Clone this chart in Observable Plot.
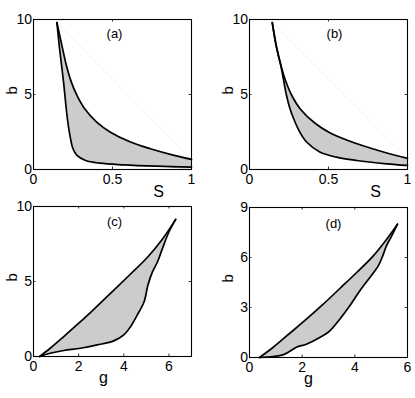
<!DOCTYPE html>
<html><head><meta charset="utf-8">
<script src="https://cdn.jsdelivr.net/npm/d3@7"></script>
<script src="https://cdn.jsdelivr.net/npm/@observablehq/plot@0.6"></script>
<style>
html,body{margin:0;padding:0;background:#fff;overflow:hidden;}
#chart{position:relative;width:415px;height:398px;}
#chart svg{position:absolute;overflow:visible;}
</style></head><body><div id="chart"></div>
<script>
// Panel (a): b versus S
const aUpper = [[0.148,9.8],[0.184,8.06],[0.208,6.95],[0.239,5.84],[0.275,4.94],[0.324,4.05],[0.40,3.16],[0.487,2.49],[0.614,1.83],[0.74,1.38],[0.89,0.94],[1.0,0.67]];
const aLower = [[0.148,9.8],[0.165,8.06],[0.19,5.84],[0.212,3.6],[0.227,2.49],[0.25,1.38],[0.275,0.94],[0.33,0.6],[0.42,0.42],[0.57,0.31],[0.78,0.22],[1.0,0.16]];
// Panel (b): b versus S
const bUpper = [[0.144,9.8],[0.17,8.2],[0.197,7.0],[0.229,5.9],[0.267,4.95],[0.324,4.0],[0.413,3.1],[0.508,2.45],[0.657,1.8],[0.805,1.3],[0.91,0.98],[1.0,0.74]];
const bLower = [[0.144,9.8],[0.17,8.2],[0.197,7.0],[0.215,6.0],[0.233,5.0],[0.252,4.2],[0.275,3.5],[0.318,2.5],[0.36,1.85],[0.445,1.16],[0.55,0.82],[0.678,0.6],[0.87,0.38],[1.0,0.27]];
// Panel (c): b versus g
const cUpper = [[0.27,0],[0.74,0.55],[1.34,1.33],[2.08,2.32],[2.82,3.36],[3.56,4.42],[4.3,5.5],[5.04,6.6],[5.7,7.8],[6.3,9.14]];
const cLower = [[0.27,0],[0.74,0.22],[1.34,0.4],[2.08,0.55],[2.82,0.77],[3.56,1.04],[4.0,1.44],[4.3,1.99],[4.6,2.77],[4.9,3.65],[5.07,4.76],[5.27,5.64],[5.49,6.3],[5.71,7.19],[6.0,8.3],[6.3,9.14]];
// Panel (d): b versus g
const dUpper = [[0.38,0],[0.89,0.6],[1.52,1.44],[2.16,2.3],[2.8,3.2],[3.43,4.14],[4.07,5.1],[4.7,6.1],[5.21,7.1],[5.62,8.0]];
const dLower = [[0.38,0],[0.89,0.06],[1.27,0.16],[1.52,0.36],[1.78,0.62],[2.16,0.8],[2.67,1.2],[3.05,1.6],[3.43,2.3],[3.81,3.1],[4.19,4.0],[4.57,4.8],[4.89,5.5],[5.06,6.1],[5.2,6.7],[5.4,7.3],[5.62,8.0]];

// Axes
const sDomain = [0, 1], sTicks = [0, 0.5, 1];
const gDomainC = [0, 7], gDomainD = [0, 6], gTicks = [0, 2, 4, 6];
const bDomain10 = [0, 10], bTicks10 = [0, 5, 10];
const bDomain9 = [0, 9], bTicks9 = [0, 3, 6, 9];
const panelLabels = ["(a)", "(b)", "(c)", "(d)"];
const xLabels = ["S", "S", "g", "g"];
const yLabel = "b";

const panels = [
  {upper: aUpper, lower: aLower, xd: sDomain, xt: sTicks, yd: bDomain10, yt: bTicks10, label: panelLabels[0], xl: xLabels[0], left: 0, top: 0, faint: true, xlDx: 46, xlDy: 22, lDx: 2, lDy: 14},
  {upper: bUpper, lower: bLower, xd: sDomain, xt: sTicks, yd: bDomain10, yt: bTicks10, label: panelLabels[1], xl: xLabels[1], left: 216, top: 0, faint: true, xlDx: 47, xlDy: 22, lDx: 6, lDy: 14},
  {upper: cUpper, lower: cLower, xd: gDomainC, xt: gTicks, yd: bDomain10, yt: bTicks10, label: panelLabels[2], xl: xLabels[2], left: 0, top: 187, faint: false, xlDx: -9, xlDy: 21, lDx: 2, lDy: 15},
  {upper: dUpper, lower: dLower, xd: gDomainD, xt: gTicks, yd: bDomain9, yt: bTicks9, label: panelLabels[3], xl: xLabels[3], left: 216, top: 188, faint: false, xlDx: -20, xlDy: 21, lDx: 5, lDy: 16}
];

const W = 199, H = 198, ML = 33, MR = 8, MT = 19, MB = 29;
const innerW = W - ML - MR, innerH = H - MT - MB;
const font = "'Liberation Sans', Arial, Helvetica, sans-serif";
const X = d => d[0], Y = d => d[1];
const chart = document.getElementById("chart");

for (const p of panels) {
  const poly = p.upper.concat(p.lower.slice().reverse());
  const marks = [
    Plot.line(poly, {x: X, y: Y, fill: "#cccccc", stroke: "none", curve: "catmull-rom", clip: true})
  ];
  if (p.faint) {
    marks.push(Plot.line([p.upper[0], p.upper[p.upper.length - 1]], {x: X, y: Y, stroke: "#e6e6e6", strokeWidth: 0.6}));
  }
  marks.push(
    Plot.line(p.upper, {x: X, y: Y, stroke: "black", strokeWidth: 1.7, curve: "catmull-rom"}),
    Plot.line(p.lower, {x: X, y: Y, stroke: "black", strokeWidth: 1.7, curve: "catmull-rom"}),
    Plot.frame({stroke: "black", strokeWidth: 1.1}),
    Plot.tickX(p.xt, {x: d => d, insetTop: innerH - 2.5, stroke: "black", strokeWidth: 0.8}),
    Plot.tickX(p.xt, {x: d => d, insetBottom: innerH - 2.5, stroke: "black", strokeWidth: 0.8}),
    Plot.tickY(p.yt, {y: d => d, insetRight: innerW - 2.5, stroke: "black", strokeWidth: 0.8}),
    Plot.tickY(p.yt, {y: d => d, insetLeft: innerW - 2.5, stroke: "black", strokeWidth: 0.8}),
    Plot.axisX(p.xt, {anchor: "bottom", tickSize: 0, tickPadding: 5, label: null, tickFormat: d => String(d), fontSize: 14}),
    Plot.axisY(p.yt, {anchor: "left", tickSize: 0, tickPadding: 1.5, label: null, tickFormat: d => String(d), fontSize: 14, dy: 0.5}),
    Plot.text([p.label], {frameAnchor: "top", lineAnchor: "middle", dx: p.lDx, dy: p.lDy, text: d => d, fontSize: 13}),
    Plot.text([yLabel], {frameAnchor: "left", lineAnchor: "middle", dx: -21, rotate: -90, text: d => d, fontSize: 15}),
    Plot.text([p.xl], {frameAnchor: "bottom", lineAnchor: "middle", dx: p.xlDx, dy: p.xlDy, text: d => d, fontSize: 16})
  );
  const svg = Plot.plot({
    width: W, height: H,
    marginLeft: ML, marginRight: MR, marginTop: MT, marginBottom: MB,
    style: {fontFamily: font, fontSize: "14px", color: "black", background: "transparent", overflow: "visible"},
    x: {domain: p.xd},
    y: {domain: p.yd},
    marks
  });
  svg.style.left = p.left + "px";
  svg.style.top = p.top + "px";
  chart.appendChild(svg);
}
</script></body></html>
